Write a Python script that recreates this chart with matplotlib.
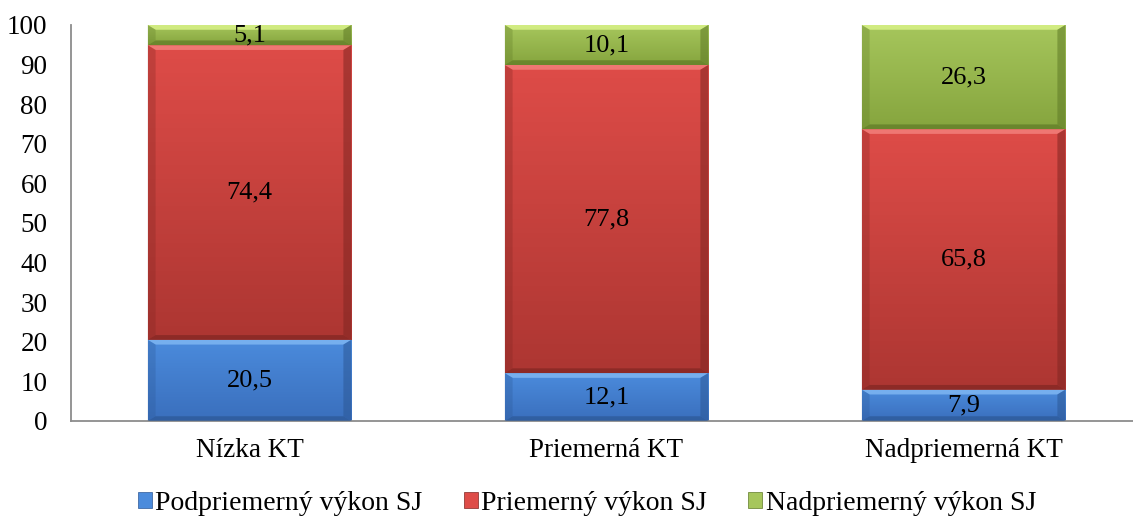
import numpy as np
import matplotlib.pyplot as plt
from matplotlib.colors import LinearSegmentedColormap
from matplotlib.patches import Polygon, Patch

categories = ['Nízka KT', 'Priemerná KT', 'Nadpriemerná KT']
series_names = ['Podpriemerný výkon SJ', 'Priemerný výkon SJ', 'Nadpriemerný výkon SJ']
podpriemerny = [20.5, 12.1, 7.9]
priemerny = [74.4, 77.8, 65.8]
nadpriemerny = [5.1, 10.1, 26.3]

# (top colour, bottom colour, bevel light, bevel dark)
styles = [
    ('#4b8bdc', '#3a6fbd', '#7fb6f2', '#2c5896'),
    ('#de4c48', '#ad3632', '#f37f7b', '#802622'),
    ('#a6c65c', '#86a53e', '#d9f288', '#5f7a26'),
]

plt.rcParams['font.family'] = ['Liberation Serif', 'DejaVu Serif']
fig = plt.figure(figsize=(11.33, 5.17), dpi=100)
ax = fig.add_axes([71 / 1133, 96 / 517, 1071 / 1133, 396 / 517])

x = np.arange(len(categories))
width = 0.57
bottom = np.zeros(len(categories))
bx, by = 0.022, 1.2

for vals, (top_c, bot_c, lt, dk) in zip([podpriemerny, priemerny, nadpriemerny], styles):
    bars = ax.bar(x, vals, width, bottom=bottom, color=top_c, edgecolor='none', zorder=2)
    cmap = LinearSegmentedColormap.from_list('g', [bot_c, top_c])
    for b, v in zip(bars, vals):
        x0, y0, w, h = b.get_x(), b.get_y(), b.get_width(), b.get_height()
        grad = np.linspace(0, 1, 64).reshape(-1, 1)
        im = ax.imshow(grad, extent=(x0, x0 + w, y0, y0 + h), origin='lower',
                       cmap=cmap, aspect='auto', zorder=2)
        im.set_clip_path(b)
        x1, y1 = x0 + w, y0 + h
        ax.add_patch(Polygon([(x0, y1), (x1, y1), (x1 - bx, y1 - by), (x0 + bx, y1 - by)],
                             closed=True, color=lt, alpha=0.85, lw=0, zorder=3))
        ax.add_patch(Polygon([(x0, y0), (x1, y0), (x1 - bx, y0 + by), (x0 + bx, y0 + by)],
                             closed=True, color=dk, alpha=0.7, lw=0, zorder=3))
        ax.add_patch(Polygon([(x0, y0), (x0, y1), (x0 + bx, y1 - by), (x0 + bx, y0 + by)],
                             closed=True, color=dk, alpha=0.3, lw=0, zorder=3))
        ax.add_patch(Polygon([(x1, y0), (x1, y1), (x1 - bx, y1 - by), (x1 - bx, y0 + by)],
                             closed=True, color=dk, alpha=0.55, lw=0, zorder=3))
        ax.text(x0 + w / 2, y0 + h / 2, f'{v:.1f}'.replace('.', ','),
                ha='center', va='center', fontsize=19, zorder=4)
    bottom += np.array(vals)

ax.set_xlim(-0.5, 2.5)
ax.set_ylim(0, 100)
ax.set_yticks(range(0, 101, 10))
ax.set_xticks(x)
ax.set_xticklabels(categories)
ax.tick_params(axis='both', length=0, labelsize=19.5)
ax.tick_params(axis='x', pad=12)
ax.tick_params(axis='y', pad=17)
for s in ['top', 'right']:
    ax.spines[s].set_visible(False)
for s in ['left', 'bottom']:
    ax.spines[s].set_color('#8c8c8c')
    ax.spines[s].set_linewidth(1.3)

handles = [Patch(facecolor=s[0], edgecolor=s[3], lw=0.5) for s in styles]
fig.legend(handles, series_names, loc='center', bbox_to_anchor=(0.518, 0.027), ncol=3,
           frameon=False, fontsize=20, handlelength=0.5, handleheight=0.5,
           handletextpad=0.12, columnspacing=1.5)

fig.savefig('out.png', dpi=100)
